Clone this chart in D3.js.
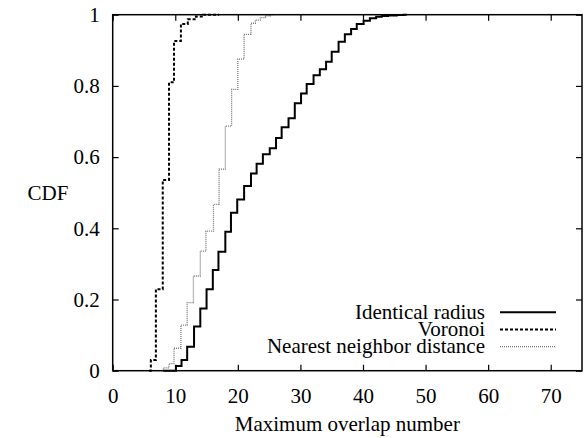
<!DOCTYPE html>
<html>
<head>
<meta charset="utf-8">
<script src="https://cdn.jsdelivr.net/npm/d3@7"></script>
<style>
  html, body { margin: 0; padding: 0; background: #fff; }
  svg text { font-family: "Liberation Serif", "Times New Roman", serif; fill: #000; }
</style>
</head>
<body>
<svg id="chart" width="584" height="438"></svg>
<script>
// ---- data (x = maximum overlap number, y = CDF value reached at that x) ----
const identicalX = [8.1, 10.1, 11.0, 11.9, 13.0, 14.0, 15.0, 16.0, 16.9, 18.0, 18.9, 19.9, 21.0, 22.1, 23.0, 24.0, 25.1, 26.1, 27.0, 28.1, 29.1, 30.1, 31.0, 32.1, 33.1, 34.1, 35.0, 36.1, 37.1, 38.1, 39.0, 40.1, 41.1, 42.1, 43.0, 44.0, 45.4, 46.5, 47.0];
const identicalY = [0, 0.013, 0.030, 0.067, 0.124, 0.175, 0.229, 0.283, 0.334, 0.390, 0.444, 0.481, 0.519, 0.554, 0.581, 0.608, 0.625, 0.654, 0.684, 0.709, 0.751, 0.779, 0.805, 0.830, 0.847, 0.868, 0.896, 0.924, 0.945, 0.960, 0.974, 0.983, 0.990, 0.994, 0.996, 0.998, 0.999, 1.0, 1.0];

const voronoiX = [5.8, 6.1, 6.9, 8.0, 9.0, 9.8, 10.9, 12.0, 13.3, 14.5, 17.0];
const voronoiY = [0, 0.030, 0.229, 0.536, 0.810, 0.926, 0.974, 0.987, 0.995, 1.0, 1.0];

const nearestX = [7.0, 8.1, 9.0, 9.8, 10.9, 11.9, 12.9, 14.0, 14.9, 16.1, 17.0, 18.0, 19.0, 20.0, 21.0, 22.1, 22.8, 23.6, 24.4, 25.2, 25.8];
const nearestY = [0, 0.008, 0.020, 0.063, 0.128, 0.191, 0.266, 0.336, 0.392, 0.467, 0.566, 0.687, 0.790, 0.875, 0.945, 0.976, 0.985, 0.992, 0.997, 1.0, 1.0];

const seriesNames = ["Identical radius", "Voronoi", "Nearest neighbor distance"];
const xTicks = [0, 10, 20, 30, 40, 50, 60, 70];
const yTicks = [0, 0.2, 0.4, 0.6, 0.8, 1];
const xTitle = "Maximum overlap number";
const yTitle = "CDF";

// ---- layout ----
const svg = d3.select("#chart");
const mLeft = 112.7, mRight = 582, mTop = 14.7, mBottom = 370.7;
const fontSize = 21;

const x = d3.scaleLinear().domain([0, 75]).range([mLeft, mRight]);
const y = d3.scaleLinear().domain([0, 1]).range([mBottom, mTop]);

const series = [
  { name: seriesNames[0], xs: identicalX, ys: identicalY, stroke: "#000", width: 2, dash: null },
  { name: seriesNames[1], xs: voronoiX, ys: voronoiY, stroke: "#000", width: 2, dash: "3,2" },
  { name: seriesNames[2], xs: nearestX, ys: nearestY, stroke: "#777", width: 1.3, dash: "1,1" }
];

// axes (ticks inward, mirrored on all sides)
const tickLen = 6;
const gx = svg.append("g").attr("transform", `translate(0,${mBottom})`)
  .call(d3.axisBottom(x).tickValues(xTicks).tickSizeInner(-tickLen).tickSizeOuter(0).tickPadding(17).tickFormat(d3.format("d")));
const gxTop = svg.append("g").attr("transform", `translate(0,${mTop})`)
  .call(d3.axisTop(x).tickValues(xTicks).tickSizeInner(-tickLen).tickSizeOuter(0).tickFormat(""));
const gy = svg.append("g").attr("transform", `translate(${mLeft},0)`)
  .call(d3.axisLeft(y).tickValues(yTicks).tickSizeInner(-tickLen).tickSizeOuter(0).tickPadding(13).tickFormat(d => d3.format("~g")(d)));
const gyR = svg.append("g").attr("transform", `translate(${mRight},0)`)
  .call(d3.axisRight(y).tickValues(yTicks).tickSizeInner(-tickLen).tickSizeOuter(0).tickFormat(""));

[gx, gxTop, gy, gyR].forEach(g => {
  g.select(".domain").remove();
  g.selectAll(".tick line").attr("stroke", "#000").attr("stroke-width", 1.2);
  g.selectAll(".tick text").attr("font-size", fontSize).attr("font-family", "Liberation Serif").attr("fill", "#000");
});

// curves
const line = d3.line().curve(d3.curveStepAfter).x(d => x(d[0])).y(d => y(d[1]));
series.forEach(s => {
  const pts = s.xs.map((v, i) => [v, s.ys[i]]);
  svg.append("path")
    .datum(pts)
    .attr("d", line)
    .attr("fill", "none")
    .attr("stroke", s.stroke)
    .attr("stroke-width", s.width)
    .attr("stroke-dasharray", s.dash);
});

// frame
svg.append("rect")
  .attr("x", mLeft).attr("y", mTop)
  .attr("width", mRight - mLeft).attr("height", mBottom - mTop)
  .attr("fill", "none").attr("stroke", "#000").attr("stroke-width", 1.5);

// titles
svg.append("text")
  .attr("x", (mLeft + mRight) / 2).attr("y", 431)
  .attr("text-anchor", "middle").attr("font-size", fontSize)
  .text(xTitle);
svg.append("text")
  .attr("x", 48).attr("y", (mTop + mBottom) / 2 + 7)
  .attr("text-anchor", "middle").attr("font-size", fontSize)
  .text(yTitle);

// legend
const legendRows = [312.3, 329.5, 346.7];
series.forEach((s, i) => {
  const ly = legendRows[i];
  svg.append("text")
    .attr("x", 485).attr("y", ly + 6.5)
    .attr("text-anchor", "end").attr("font-size", fontSize)
    .text(s.name);
  svg.append("line")
    .attr("x1", 500).attr("x2", 556)
    .attr("y1", ly).attr("y2", ly)
    .attr("stroke", s.stroke)
    .attr("stroke-width", s.width)
    .attr("stroke-dasharray", s.dash);
});
</script>
</body>
</html>
